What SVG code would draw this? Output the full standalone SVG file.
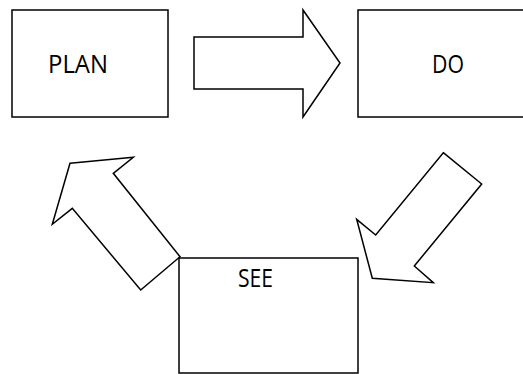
<svg xmlns="http://www.w3.org/2000/svg" width="523" height="374" viewBox="0 0 523 374">
  <style>
    .box { fill: #ffffff; stroke: #000000; stroke-width: 1.5; }
    .arrow { fill: #ffffff; stroke: #000000; stroke-width: 1.5; stroke-linejoin: miter; }
    .label { font-family: "Open Sans", "Noto Sans", "Liberation Sans", sans-serif; font-size: 26px; fill: #000000; }
  </style>
  <rect width="523" height="374" fill="#ffffff"/>
  <g id="connectors">
    <!-- PLAN to DO -->
    <polygon class="arrow" points="194,37 303,37 303,10 340,63 303,117 303,89 194,89"/>
    <!-- DO to SEE -->
    <polygon class="arrow" points="443.3,152.7 481.7,184 414.3,266 433.3,282.7 372.3,278.3 356.7,219.3 375.7,235"/>
    <!-- SEE to PLAN -->
    <polygon class="arrow" points="70,163.3 133.3,157.3 113.3,173.3 180,256.7 140.7,290 72.3,208.3 52.3,224.3"/>
  </g>
  <g id="plan">
    <rect class="box" x="12" y="10" width="156" height="107"/>
    <text class="label" x="48" y="73" textLength="60" lengthAdjust="spacingAndGlyphs">PLAN</text>
  </g>
  <g id="do">
    <rect class="box" x="358" y="10" width="175" height="107"/>
    <text class="label" x="432" y="73" textLength="32" lengthAdjust="spacingAndGlyphs">DO</text>
  </g>
  <g id="see">
    <rect class="box" x="179" y="258" width="179" height="115"/>
    <text class="label" x="238" y="286.5" textLength="35" lengthAdjust="spacingAndGlyphs">SEE</text>
  </g>
</svg>
